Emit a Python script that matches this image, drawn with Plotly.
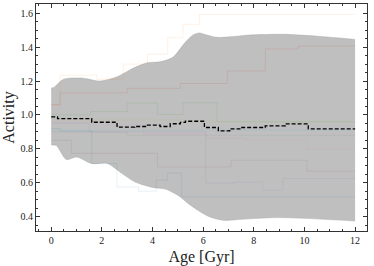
import plotly.graph_objects as go

# ---- data ----
upper_age = [0, 0.1, 0.47, 1.26, 1.93, 2.6, 3.25, 3.8, 4.3, 4.8, 5.3, 5.6, 5.85, 6.1, 6.55, 7.2, 7.85, 9.15, 10.5, 12]
upper_val = [1.159, 1.162, 1.21, 1.217, 1.20, 1.225, 1.277, 1.308, 1.314, 1.34, 1.43, 1.472, 1.484, 1.474, 1.458, 1.463, 1.472, 1.476, 1.465, 1.446]
lower_age = [0, 0.2, 0.6, 1.0, 1.6, 2.2, 2.8, 3.3, 4.0, 4.5, 5.0, 5.5, 6.2, 6.8, 7.5, 9.0, 12]
lower_val = [0.822, 0.82, 0.737, 0.752, 0.713, 0.715, 0.654, 0.605, 0.572, 0.563, 0.526, 0.467, 0.402, 0.378, 0.384, 0.394, 0.374]

mean_age = [0, 0.25, 1.6, 2.6, 3.3, 3.8, 4.3, 4.7, 5.1, 5.3, 6.05, 6.6, 7.05, 7.45, 8.45, 9.25, 10.15, 12]
mean_val = [0.989, 0.978, 0.957, 0.928, 0.932, 0.94, 0.932, 0.948, 0.956, 0.963, 0.926, 0.906, 0.918, 0.926, 0.936, 0.947, 0.918, 0.918]

series_age = [
    [0, 0.35, 1.6, 2.6, 3.45, 4.15, 4.6, 5.15, 12],
    [0, 0.35, 1.8, 2.85, 3.8, 4.6, 5.2, 5.85, 12],
    [0, 1.55, 3.0, 4.2, 5.2, 6.55, 12],
    [0, 0.35, 3.0, 5.1, 6.95, 8.45, 9.75, 12],
    [0, 1.5, 6.1, 7.25, 8.35, 9.15, 12],
    [0, 0.8, 4.2, 7.1, 10.1, 12],
    [0, 2.2, 3.65, 6.15, 7.7, 10.1, 12],
    [0, 3.0, 12],
    [0, 5.3, 12],
    [0, 6.1, 12],
]
series_val = [
    [0.92, 0.905, 0.713, 0.575, 0.55, 0.615, 0.658, 0.516, 0.516],
    [1.06, 1.235, 1.21, 1.30, 1.36, 1.456, 1.535, 1.594, 1.594],
    [1.0, 1.02, 1.07, 1.003, 1.072, 0.96, 0.96],
    [1.06, 1.13, 1.157, 1.186, 1.26, 1.39, 1.407, 1.407],
    [0.95, 0.9, 0.598, 0.605, 0.556, 0.625, 0.625],
    [0.85, 0.773, 0.693, 0.733, 0.668, 0.668],
    [0.96, 0.94, 0.89, 0.861, 0.85, 0.80, 0.80],
    [0.9, 0.88, 0.88],
    [0.97, 0.96, 0.96],
    [0.91, 0.91, 0.91],
]
series_colors = ["#1f77b4", "#ff7f0e", "#2ca02c", "#d62728", "#9467bd",
                 "#8c564b", "#e377c2", "#7f7f7f", "#bcbd22", "#17becf"]

x_ticks = [0, 2, 4, 6, 8, 10, 12]
y_ticks = [0.4, 0.6, 0.8, 1.0, 1.2, 1.4, 1.6]


def rgba(hexc, a):
    h = hexc.lstrip("#")
    r, g, b = int(h[0:2], 16), int(h[2:4], 16), int(h[4:6], 16)
    return f"rgba({r},{g},{b},{a})"


fig = go.Figure()

fig.add_trace(go.Scatter(x=lower_age, y=lower_val, mode="lines",
                         line=dict(color="rgba(160,160,160,0.7)", width=0.6, shape="spline", smoothing=0.8),
                         showlegend=False, hoverinfo="skip"))
fig.add_trace(go.Scatter(x=upper_age, y=upper_val, mode="lines", fill="tonexty",
                         fillcolor="rgb(191,191,191)",
                         line=dict(color="rgba(160,160,160,0.7)", width=0.6, shape="spline", smoothing=0.8),
                         showlegend=False, hoverinfo="skip"))

for ages, vals, col in zip(series_age, series_val, series_colors):
    fig.add_trace(go.Scatter(x=ages, y=vals, mode="lines",
                             line=dict(color=rgba(col, 0.14), width=0.8, shape="hv"),
                             showlegend=False, hoverinfo="skip"))

fig.add_trace(go.Scatter(x=mean_age, y=mean_val, mode="lines",
                         line=dict(color="black", width=1.3, dash="4px,2px", shape="hv"),
                         showlegend=False, hoverinfo="skip"))

font_family = "Liberation Serif, DejaVu Serif, serif"

axis_common = dict(
    showgrid=False, zeroline=False, showline=True, linecolor="#333333", linewidth=1,
    mirror="ticks", ticks="inside", ticklen=4, tickwidth=0.8, tickcolor="#333333",
    tickfont=dict(family=font_family, size=10, color="#222222"),
    automargin=False,
)

fig.update_xaxes(range=[-0.6, 12.47], tickvals=x_ticks, ticktext=[str(t) for t in x_ticks],
                 minor=dict(dtick=0.5, ticks="inside", ticklen=2, tickcolor="#333333", tickwidth=0.6),
                 title=dict(text="Age [Gyr]", font=dict(family=font_family, size=16, color="#222222")),
                 **axis_common)
fig.update_yaxes(range=[0.315, 1.655], tickvals=y_ticks, ticktext=[f"{t:.1f}" for t in y_ticks],
                 minor=dict(dtick=0.05, ticks="inside", ticklen=2, tickcolor="#333333", tickwidth=0.6),
                 title=dict(text="Activity", font=dict(family=font_family, size=16, color="#222222")),
                 **axis_common)

fig.update_layout(width=374, height=266, margin=dict(l=36, r=7, t=4, b=35),
                  plot_bgcolor="white", paper_bgcolor="white", showlegend=False)

fig.write_html("out.html", config={"displayModeBar": False},
               post_script="document.body.style.margin='0';")
